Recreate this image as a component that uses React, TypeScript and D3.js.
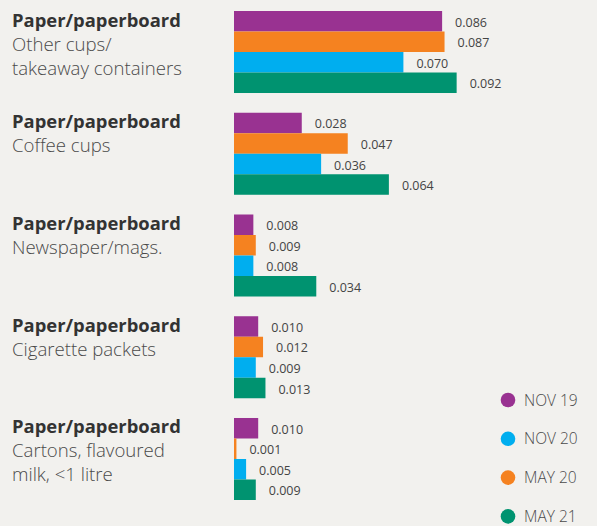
import React from "react";
import * as d3 from "d3";

const categories = [
  ["Paper/paperboard", "Other cups/", "takeaway containers"],
  ["Paper/paperboard", "Coffee cups"],
  ["Paper/paperboard", "Newspaper/mags."],
  ["Paper/paperboard", "Cigarette packets"],
  ["Paper/paperboard", "Cartons, flavoured", "milk, <1 litre"],
];
const seriesKeys = ["NOV 19", "MAY 20", "NOV 20", "MAY 21"];
const nov19 = [0.086, 0.028, 0.008, 0.010, 0.010];
const may20 = [0.087, 0.047, 0.009, 0.012, 0.001];
const nov20 = [0.070, 0.036, 0.008, 0.009, 0.005];
const may21 = [0.092, 0.064, 0.034, 0.013, 0.009];
const legendOrder = ["NOV 19", "NOV 20", "MAY 20", "MAY 21"];

const colors: Record<string, string> = {
  "NOV 19": "#993291",
  "MAY 20": "#f58220",
  "NOV 20": "#00aeef",
  "MAY 21": "#009370",
};

const W = 597;
const H = 526;

export default function App() {
  const series = [nov19, may20, nov20, may21];
  const x = d3.scaleLinear().domain([0, 0.1]).range([234, 476]);
  const y0 = d3.scaleBand<number>().domain(d3.range(categories.length)).range([11, 500]).paddingInner(0.194).paddingOuter(0).align(0);
  const y1 = d3.scaleBand<string>().domain(seriesKeys).range([0, y0.bandwidth()]);
  const fmt = d3.format(".3f");
  const font = "'Open Sans', sans-serif";
  return (
    <svg width={W} height={H} style={{ position: "absolute", left: 0, top: 0, background: "#f2f1ee", fontFamily: font }}>
      <rect x={0} y={0} width={W} height={H} fill="#f2f1ee" />
      {categories.map((lines, i) => {
        const gy = y0(i)!;
        return (
          <g key={i}>
            <text x={12} y={gy + 15.5} fontSize={18.4} fontWeight={700} fill="#333">{lines[0]}</text>
            {lines.slice(1).map((l, j) => (
              <text key={j} x={12} y={gy + 39.5 + j * 24} fontSize={18.6} fontWeight={300} fill="#4a4a4a">{l}</text>
            ))}
            {seriesKeys.map((k, s) => {
              const v = series[s][i];
              const by = gy + y1(k)!;
              return (
                <g key={k}>
                  <rect x={x(0)} y={by} width={x(v) - x(0)} height={y1.bandwidth()} fill={colors[k]} />
                  <text x={x(v) + 13} y={by + y1.bandwidth() / 2 + 5.5} fontSize={12.5} fill="#444">{fmt(v)}</text>
                </g>
              );
            })}
          </g>
        );
      })}
      {legendOrder.map((k, i) => (
        <g key={k} transform={`translate(508, ${400 + i * 38.8})`}>
          <circle cx={0} cy={0} r={7.3} fill={colors[k]} />
          <text x={16} y={5.5} fontSize={15.5} fontWeight={300} fill="#4a4a4a">{k}</text>
        </g>
      ))}
    </svg>
  );
}
